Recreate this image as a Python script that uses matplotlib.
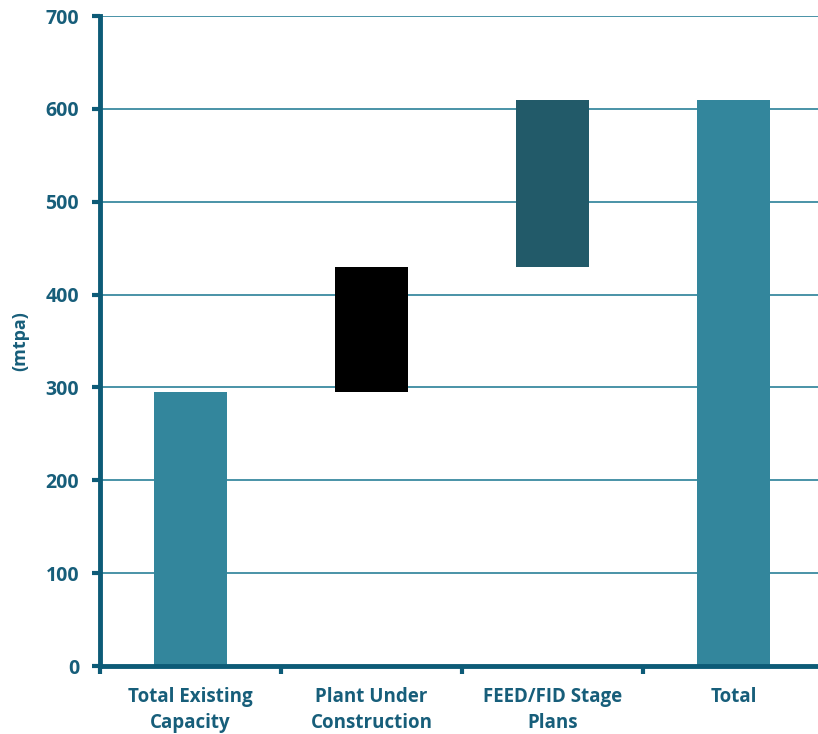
import matplotlib
matplotlib.use("Agg")
import matplotlib.pyplot as plt
import numpy as np

categories = ["Total Existing\nCapacity", "Plant Under\nConstruction", "FEED/FID Stage\nPlans", "Total"]
bottoms = [0, 295, 430, 0]
values = [295, 135, 180, 610]
colors = ["#33869C", "#000000", "#225A69", "#33869C"]
yticks = [0, 100, 200, 300, 400, 500, 600, 700]

text_color = "#175E7A"
axis_color = "#0D5B77"
grid_color = "#3A8AA0"

plt.rcParams['font.family'] = ['Open Sans', 'DejaVu Sans']

fig = plt.figure(figsize=(8.18, 7.34), dpi=100)
ax = fig.add_axes([100/818, 68/734, 724/818, 650/734])

x = np.arange(len(categories))
ax.bar(x, values, bottom=bottoms, width=0.4, color=colors, zorder=3)

ax.set_xlim(-0.5, len(categories) - 0.5)
ax.set_ylim(0, 700)
ax.set_yticks(yticks)
ax.set_yticklabels([str(t) for t in yticks], fontsize=14, fontweight='bold', color=text_color)
ax.set_xticks(x)
ax.set_xticklabels(categories, fontsize=13.5, fontweight='bold', color=text_color, linespacing=1.4)
ax.set_xticks(np.arange(len(categories) + 1) - 0.5, minor=True)
ax.tick_params(axis='x', which='major', length=0, pad=15)
ax.tick_params(axis='x', which='minor', length=6, width=3, color=axis_color, direction='out')
ax.tick_params(axis='y', length=6, width=3, color=axis_color, pad=9)

ax.yaxis.grid(True, color=grid_color, linewidth=1.3, zorder=1)
ax.set_axisbelow(True)

for s in ['top', 'right']:
    ax.spines[s].set_visible(False)
for s in ['left', 'bottom']:
    ax.spines[s].set_color(axis_color)
    ax.spines[s].set_linewidth(3.5)
    ax.spines[s].set_zorder(4)

ax.set_ylabel("(mtpa)", fontsize=13, fontweight='bold', color=text_color, labelpad=12)

fig.savefig("out.png", dpi=100)
